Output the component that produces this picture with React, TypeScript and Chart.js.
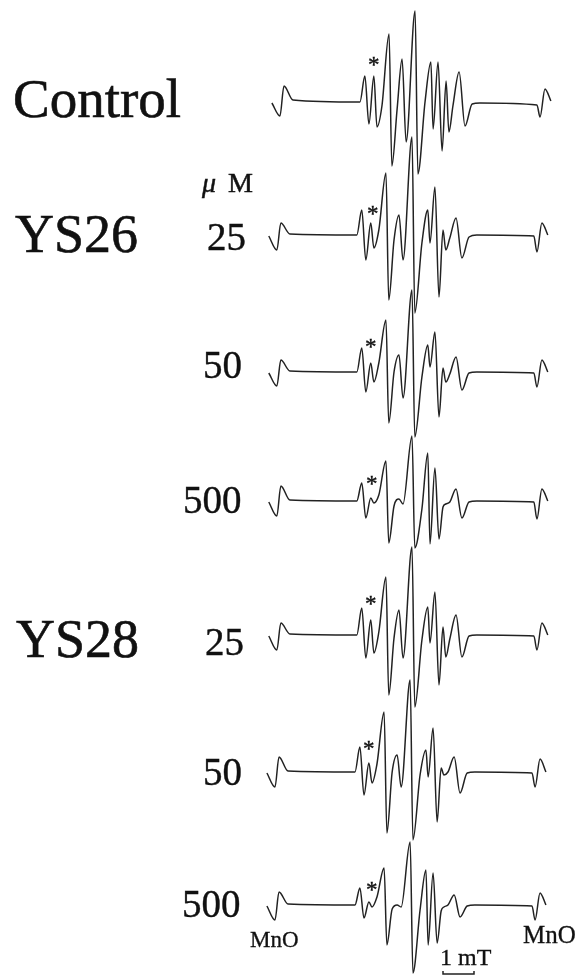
import React, { useEffect, useRef } from "react";
import { Chart, registerables } from "chart.js";

Chart.register(...registerables);

// Magnetic field (mT, relative to spectrum centre) of the read-off turning points
const fieldMT = [
  -4.52, -4.26, -4.13, -3.84, -1.68, -1.52, -1.39, -1.23, -1.13, -0.97, -0.74,
  -0.65, -0.48, -0.32, -0.19, 0.1, 0.19, 0.42, 0.61, 0.68, 0.84, 0.97, 1.1,
  1.19, 1.32, 1.52, 1.71, 1.94, 2.19, 4.03, 4.13, 4.29, 4.48,
];

// ESR derivative intensities (a.u.) at those field points
const controlSignal = [
  -1, -14, 16, 2, 0, 26, -22, 26, -25, -4, 68, -64, -7, 43, -40, 91, -72, 0, 40,
  -27, 40, -49, 21, -30, -4, 30, -24, -2, -1, -3, -15, 13, 1,
];
const ys26_25 = [
  -1, -15, 12, 1, 0, 25, -25, 12, -13, 5, 62, -65, -5, 20, -25, 98, -78, -8, 25,
  -8, 48, -62, 5, -15, -3, 17, -23, -2, 0, -1, -17, 12, 0,
];
const ys26_50 = [
  -1, -14, 12, 1, 0, 24, -20, 9, -10, 9, 52, -51, 0, 17, -26, 82, -65, -5, 27, 5,
  40, -45, 4, -10, -2, 15, -18, -1, 0, -1, -15, 12, 0,
];
const ys26_500 = [
  -1, -15, 15, 1, 0, 18, -17, 3, -2, 6, 40, -42, -5, 2, -3, 65, -47, -8, 48, -43,
  33, -38, -6, -3, -1, 12, -17, -1, 0, -1, -18, 12, 0,
];
const ys28_25 = [
  -1, -15, 12, 1, 0, 27, -23, 15, -18, 3, 58, -60, -3, 25, -23, 88, -72, -5, 28,
  -8, 43, -50, 8, -22, -4, 20, -22, -1, 0, -1, -15, 12, 0,
];
const ys28_50 = [
  -1, -15, 15, 1, 0, 25, -23, 9, -11, 8, 60, -61, 0, 17, -15, 92, -68, -3, 22, -5,
  44, -50, 4, -3, 0, 15, -21, -1, 0, -1, -15, 13, 0,
];
const ys28_500 = [
  -1, -15, 13, 1, 0, 17, -13, 3, -2, 8, 37, -40, -4, 0, -2, 63, -68, -5, 35, -40,
  32, -38, -6, -2, 0, 10, -12, -1, 0, -1, -15, 12, 0,
];

const traceNames = [
  "Control",
  "YS26 25 μM",
  "YS26 50 μM",
  "YS26 500 μM",
  "YS28 25 μM",
  "YS28 50 μM",
  "YS28 500 μM",
];
const traceSignals = [controlSignal, ys26_25, ys26_50, ys26_500, ys28_25, ys28_50, ys28_500];
// stacking offsets (a.u.) and small field shifts (mT) of each recorded spectrum
const traceOffsets = [874, 741, 604, 475, 341, 204, 71];
const traceShifts = [0, -0.1, -0.1, -0.1, -0.1, -0.16, -0.16];

// 1 mT scale bar
const scaleBarField = [1.0, 1.0, 2.0, 2.0];
const scaleBarLevel = [5, 2, 2, 5];

const FONT = "'Liberation Serif', 'Times New Roman', Times, serif";

type LabelProps = {
  text: React.ReactNode;
  x: number;
  baseline: number;
  size: number;
  stroke?: number;
};

function Label({ text, x, baseline, size, stroke = 0.3 }: LabelProps) {
  return (
    <div
      style={{
        position: "absolute",
        left: x,
        top: baseline - 0.8375 * size,
        fontFamily: FONT,
        fontSize: size,
        lineHeight: `${size}px`,
        color: "#111111",
        whiteSpace: "nowrap",
        WebkitTextStroke: `${stroke}px #111111`,
      }}
    >
      {text}
    </div>
  );
}

const asteriskCentres: [number, number][] = [
  [374, 61],
  [373, 210],
  [371, 343],
  [372, 480],
  [371, 600],
  [369, 745],
  [372, 886],
];

export default function App() {
  const canvasRef = useRef<HTMLCanvasElement | null>(null);

  useEffect(() => {
    const canvas = canvasRef.current;
    if (!canvas) return;

    const datasets: any[] = traceSignals.map((sig, i) => ({
      label: traceNames[i],
      data: sig.map((v, k) => ({
        x: fieldMT[k] + traceShifts[i],
        y: traceOffsets[i] + v,
      })),
      borderColor: "#222222",
      borderWidth: 1.5,
      pointRadius: 0,
      fill: false,
      cubicInterpolationMode: "monotone",
    }));

    datasets.push({
      label: "1 mT",
      data: scaleBarField.map((f, k) => ({ x: f, y: scaleBarLevel[k] })),
      borderColor: "#222222",
      borderWidth: 1.5,
      pointRadius: 0,
      fill: false,
      tension: 0,
    });

    const chart = new Chart(canvas, {
      type: "line",
      data: { datasets },
      options: {
        animation: false,
        responsive: false,
        devicePixelRatio: 1,
        layout: { padding: 0 },
        plugins: {
          legend: { display: false },
          tooltip: { enabled: false },
        },
        scales: {
          x: { type: "linear", min: -412 / 31, max: 169 / 31, display: false },
          y: { type: "linear", min: 0, max: 976, display: false },
        },
      },
    });

    return () => chart.destroy();
  }, []);

  const numSize = 39;

  return (
    <div
      style={{
        position: "absolute",
        left: 0,
        top: 0,
        width: 581,
        height: 976,
        overflow: "hidden",
        background: "#ffffff",
      }}
    >
      <canvas
        ref={canvasRef}
        width={581}
        height={976}
        style={{ position: "absolute", left: 0, top: 0, width: 581, height: 976 }}
      />
      <Label text="Control" x={13} baseline={117} size={55} stroke={0.6} />
      <Label text="YS26" x={15} baseline={252} size={54} stroke={0.6} />
      <Label text="YS28" x={16} baseline={657} size={54} stroke={0.6} />
      <Label
        text={
          <span>
            <span style={{ fontStyle: "italic" }}>μ</span>
            <span style={{ marginLeft: 12 }}>M</span>
          </span>
        }
        x={202}
        baseline={192}
        size={28}
        stroke={0.5}
      />
      <Label text="25" x={207} baseline={250} size={numSize} stroke={0.4} />
      <Label text="50" x={203} baseline={378} size={numSize} stroke={0.4} />
      <Label text="500" x={183} baseline={513} size={numSize} stroke={0.4} />
      <Label text="25" x={205} baseline={655} size={numSize} stroke={0.4} />
      <Label text="50" x={203} baseline={785} size={numSize} stroke={0.4} />
      <Label text="500" x={182} baseline={917} size={numSize} stroke={0.4} />
      <Label text="MnO" x={250} baseline={947} size={23} />
      <Label text="MnO" x={523} baseline={943} size={25} />
      <Label text="1 mT" x={440} baseline={965} size={24} />
      {asteriskCentres.map(([cx, cy], i) => (
        <Label key={i} text="*" x={cx - 6} baseline={cy + 11} size={23} stroke={0.4} />
      ))}
    </div>
  );
}
